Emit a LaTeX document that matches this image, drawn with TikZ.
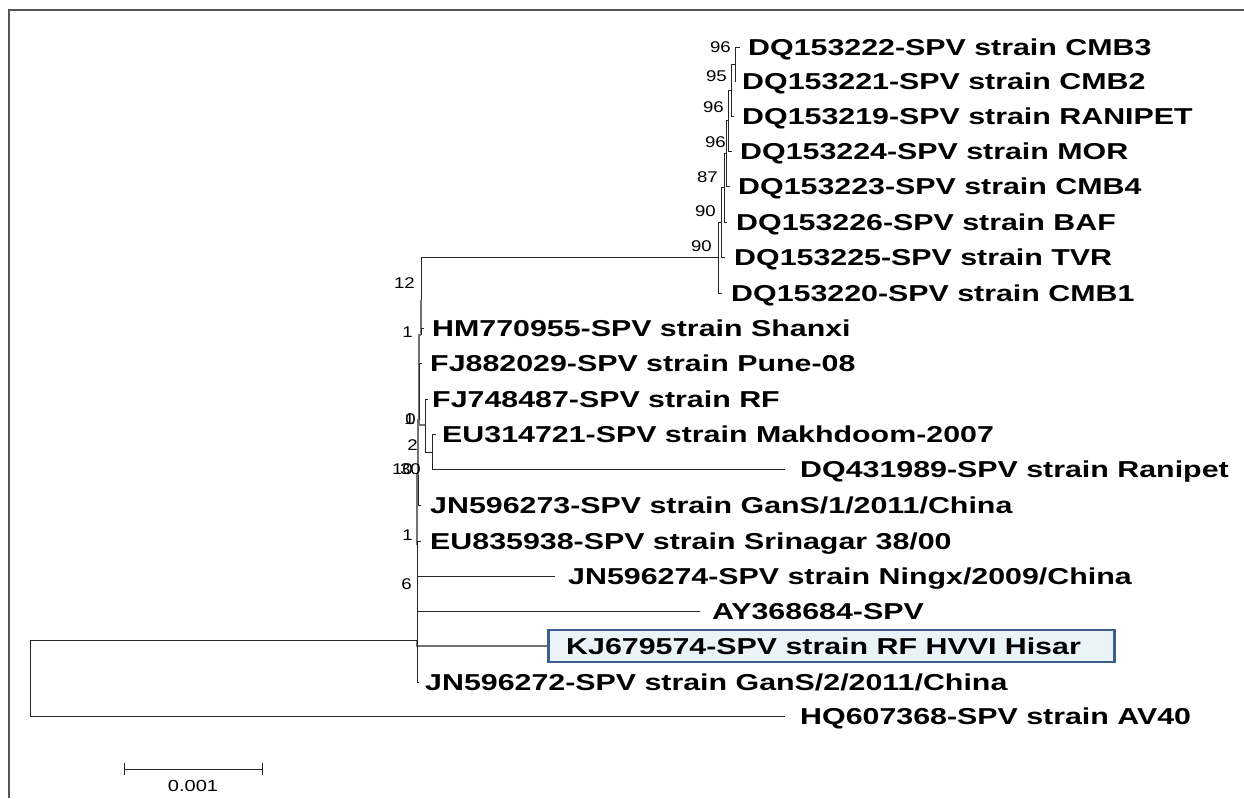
\documentclass[tikz,border=0pt]{standalone}
\usepackage{fontspec}
\usepackage{graphicx}
\setmainfont{Liberation Sans}
\definecolor{boxf}{HTML}{EAF4F8}
\definecolor{boxd}{HTML}{3E5E8E}
\definecolor{framec}{HTML}{555555}
\newcommand\LabT[1]{\scalebox{1.32}[1]{#1}}
\newcommand\BsT[1]{\scalebox{1.2}[1]{#1}}
\begin{document}
\begin{tikzpicture}[x=1pt,y=-1pt,
  lab/.style={font=\bfseries\fontsize{23}{27}\selectfont, inner sep=0pt, anchor=base west},
  bs/.style={font=\fontsize{15.5}{17}\selectfont, inner sep=0pt, anchor=base east},
  br/.style={line width=0.9pt, black!85},
  brg/.style={line width=1.1pt, black!55},
]
\useasboundingbox (0,0) rectangle (1244,798);
% frame
\draw[line width=1.6pt, framec] (9,798) -- (9,10) -- (1244,10);

% ---------- leaves (labels) ----------
\node[lab] (L1) at (748,55) {\LabT{DQ153222-SPV strain CMB3}};
\node[lab] (L2) at (742,89) {\LabT{DQ153221-SPV strain CMB2}};
\node[lab] (L3) at (742,124) {\LabT{DQ153219-SPV strain RANIPET}};
\node[lab] (L4) at (740,159) {\LabT{DQ153224-SPV strain MOR}};
\node[lab] (L5) at (738,194) {\LabT{DQ153223-SPV strain CMB4}};
\node[lab] (L6) at (736,230) {\LabT{DQ153226-SPV strain BAF}};
\node[lab] (L7) at (734,265) {\LabT{DQ153225-SPV strain TVR}};
\node[lab] (L8) at (731,301) {\LabT{DQ153220-SPV strain CMB1}};
\node[lab] (L9) at (432,336) {\LabT{HM770955-SPV strain Shanxi}};
\node[lab] (L10) at (430,371) {\LabT{FJ882029-SPV strain Pune-08}};
\node[lab] (L11) at (432,407) {\LabT{FJ748487-SPV strain RF}};
\node[lab] (L12) at (442,442) {\LabT{EU314721-SPV strain Makhdoom-2007}};
\node[lab] (L13) at (800,477) {\LabT{DQ431989-SPV strain Ranipet}};
\node[lab] (L14) at (430,513) {\LabT{JN596273-SPV strain GanS/1/2011/China}};
\node[lab] (L15) at (430,549) {\LabT{EU835938-SPV strain Srinagar 38/00}};
\node[lab] (L16) at (568,584) {\LabT{JN596274-SPV strain Ningx/2009/China}};
\node[lab] (L17) at (712,619) {\LabT{AY368684-SPV}};
\node[draw=boxd, fill=boxf, line width=2.6pt, minimum width=566pt, minimum height=32pt, inner sep=0pt, anchor=west] (box) at (547,646) {};
\node[lab] (L18) at (566,654) {\LabT{KJ679574-SPV strain RF HVVI Hisar}};
\node[lab] (L19) at (425,690) {\LabT{JN596272-SPV strain GanS/2/2011/China}};
\node[lab] (L20) at (800,724) {\LabT{HQ607368-SPV strain AV40}};

% ---------- tips ----------
\coordinate (t1) at (740,47);
\coordinate (t2) at (736,81);
\coordinate (t3) at (734,116);
\coordinate (t4) at (732,151);
\coordinate (t5) at (730,186);
\coordinate (t6) at (727,222);
\coordinate (t7) at (725,257);
\coordinate (t8) at (722,293);
\coordinate (t9) at (424,328);
\coordinate (t10) at (422,363);
\coordinate (t11) at (428,399);
\coordinate (t12) at (436,434);
\coordinate (t13) at (785,469);
\coordinate (t14) at (421,505);
\coordinate (t15) at (421,541);
\coordinate (t16) at (555,576);
\coordinate (t17) at (700,611);
\coordinate (t19) at (419,682);
\coordinate (t20) at (785,716);

% ---------- internal nodes ----------
\coordinate (n1) at (735,64);
\coordinate (n2) at (731,90);
\coordinate (n3) at (728,120);
\coordinate (n4) at (726,153);
\coordinate (n5) at (724,187);
\coordinate (n6) at (721,222);
\coordinate (n7) at (718,257);
\coordinate (a12) at (421,300);
\coordinate (a1) at (421,335);
\coordinate (s01) at (419,420);
\coordinate (b2) at (425,425);
\coordinate (c) at (432,452);
\coordinate (s1030) at (418,475);
\coordinate (s1) at (417,545);
\coordinate (M) at (417,640);
\coordinate (R) at (30,678);

% ---------- branches ----------
\draw[br] (n1) |- (t1);
\draw[br] (n1) |- (t2);
\draw[br] (n2) |- (n1);
\draw[br] (n2) |- (t3);
\draw[br] (n3) |- (n2);
\draw[br] (n3) |- (t4);
\draw[br] (n4) |- (n3);
\draw[br] (n4) |- (t5);
\draw[br] (n5) |- (n4);
\draw[br] (n5) |- (t6);
\draw[br] (n6) |- (n5);
\draw[br] (n6) |- (t7);
\draw[br] (n7) |- (n6);
\draw[br] (n7) |- (t8);

\draw[br] (a12) |- (n7);
\draw[brg] (a1) |- (a12);
\draw[br] (a1) |- (t9);
\draw[brg] (s01) |- (a1);
\draw[br] (s01) |- (t10);
\draw[brg] (s01) |- (b2);
\draw[br] (b2) |- (t11);
\draw[br] (b2) |- (c);
\draw[br] (c) |- (t12);
\draw[br] (c) |- (t13);
\draw[brg] (s1030) |- (s01);
\draw[br] (s1030) |- (t14);
\draw[brg] (s1) |- (s1030);
\draw[br] (s1) |- (t15);
\draw[br] (M) |- (s1);
\draw[br] (M) |- (t16);
\draw[br] (M) |- (t17);
\draw[brg] (M) |- (box.west);
\draw[br] (M) |- (t19);
\draw[br] (R) |- (M);
\draw[br] (R) |- (t20);

% ---------- bootstrap values ----------
\node[bs] (b96a) at (731,52) {\BsT{96}};
\node[bs] (b95) at (727,81) {\BsT{95}};
\node[bs] (b96b) at (724,112) {\BsT{96}};
\node[bs] (b96c) at (726,147) {\BsT{96}};
\node[bs] (b87) at (718,182) {\BsT{87}};
\node[bs] (b90a) at (716,216) {\BsT{90}};
\node[bs] (b90b) at (712,251) {\BsT{90}};
\node[bs] (b12) at (415,288) {\BsT{12}};
\node[bs] (b1a) at (413,337) {\BsT{1}};
\node[bs] (b0) at (416,424) {\BsT{0}};
\node[bs] (b1b) at (415,424) {\BsT{1}};
\node[bs] (b2l) at (418,450) {\BsT{2}};
\node[bs] (b10) at (413,474) {\BsT{10}};
\node[bs] (b30) at (421,474) {\BsT{30}};
\node[bs] (b1c) at (413,540) {\BsT{1}};
\node[bs] (b6) at (412,589) {\BsT{6}};

% ---------- scale bar ----------
\coordinate (sb1) at (124,769);
\coordinate (sb2) at (262,769);
\draw[br] (sb1) -- (sb2);
\draw[br] ([yshift=-6pt]sb1) -- ([yshift=6pt]sb1);
\draw[br] ([yshift=-6pt]sb2) -- ([yshift=6pt]sb2);
\node[font=\fontsize{16}{18}\selectfont, inner sep=0pt, anchor=base] (sbl) at (193,791) {\scalebox{1.25}[1]{0.001}};
\end{tikzpicture}
\end{document}
